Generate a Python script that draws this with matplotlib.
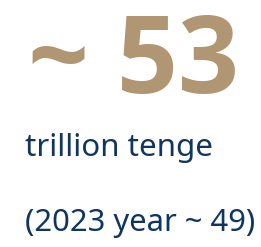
import matplotlib.pyplot as plt

value_main = "~ 53"
unit_label = "trillion tenge"
prev_year = 2023
prev_value = 49

GOLD = "#b09672"
NAVY = "#0f3560"

fig = plt.figure(figsize=(2.61, 2.47), dpi=100)
fig.patch.set_facecolor("white")

fig.text(0.108, 0.622, value_main, fontsize=77, fontweight="bold",
         family="Open Sans", color=GOLD, va="baseline", ha="left")
fig.text(0.095, 0.368, unit_label, fontsize=22.5,
         family="Noto Sans", color=NAVY, va="baseline", ha="left")
fig.text(0.095, 0.066, f"({prev_year} year ~ {prev_value})", fontsize=22.3,
         family="Noto Sans", color=NAVY, va="baseline", ha="left")

fig.savefig("out.png", dpi=100, facecolor="white")
